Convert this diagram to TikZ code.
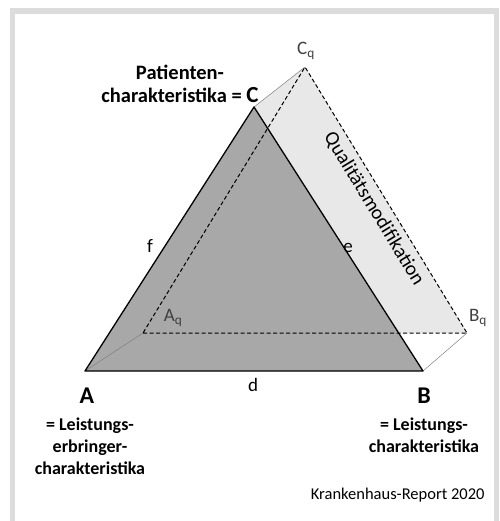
\documentclass[tikz,border=0pt]{standalone}
\usepackage{fontspec}
\setmainfont{Carlito}
\usetikzlibrary{positioning,calc}

\definecolor{framegray}{HTML}{DCDCDC}
\definecolor{darkfill}{HTML}{A8A8A8}
\definecolor{lightfill}{HTML}{E8E8E8}
\definecolor{labelgray}{HTML}{404040}

\begin{document}
\begin{tikzpicture}[x=1pt,y=-1pt,
    corner/.style={font=\fontsize{24}{26}\selectfont\bfseries},
    qlabel/.style={font=\fontsize{19}{21}\selectfont, text=labelgray},
    side/.style={font=\fontsize{19}{21}\selectfont},
    note/.style={font=\fontsize{18}{22}\selectfont\bfseries, align=center},
    solidedge/.style={draw=black, line width=1.3pt, line join=round},
    dashedge/.style={draw=black, line width=1pt, dashed, dash pattern=on 4pt off 2.5pt},
    shiftline/.style={draw=gray, line width=0.5pt},
]
\useasboundingbox (0,0) rectangle (499,521);
% frame
\draw[framegray, line width=5.5pt] (12.5,540) -- (12.5,11) -- (496.5,11) -- (496.5,540);

% corner points
\coordinate (A) at (85,371);
\coordinate (B) at (423,371);
\coordinate (C) at (254,107);
\coordinate (Aq) at (143,333);
\coordinate (Bq) at (467,333);
\coordinate (Cq) at (305,67);
\coordinate (X) at (intersection of Aq--Bq and B--C);

% shaded areas
\fill[lightfill] (C) -- (Cq) -- (Bq) -- (X) -- cycle;
\fill[darkfill] (A) -- (B) -- (C) -- cycle;

% shift lines
\draw[shiftline] (A) -- (Aq);
\draw[shiftline] (B) -- (Bq);
\draw[shiftline] (C) -- (Cq);

% modified triangle
\draw[dashedge] (Aq) -- (Bq) -- (Cq) -- cycle;
% base triangle
\draw[solidedge] (A) -- (B) -- (C) -- cycle;

% corner labels
\node[corner] (lA) at (87,396) {A};
\node[corner] (lB) at (424,396) {B};
\node[qlabel] (lAq) at (173,318) {A\textsubscript{q}};
\node[qlabel] (lBq) at (478,318) {B\textsubscript{q}};
\node[qlabel] (lCq) at (306,51) {C\textsubscript{q}};

% side labels
\node[side] (lf) at (150,246) {f};
\node[side] (le) at (348,248) {e};
\node[side] (ld) at (253,385) {d};
\node[side, font=\fontsize{20}{22}\selectfont, rotate=-58.7] (lmod) at (374,209) {Qualitätsmodifikation};

% descriptions
\node[note, font=\fontsize{20.5}{23}\selectfont\bfseries] (nC) at (180,84)
    {Patienten-\\charakteristika = {\fontsize{23}{23}\selectfont C}};
\node[note] (nA) at (90,446) {= Leistungs-\\erbringer-\\charakteristika};
\node[note] (nB) at (424,435) {= Leistungs-\\charakteristika};

\node[font=\fontsize{16.5}{18}\selectfont, anchor=east] (src) at (488,495) {Krankenhaus-Report 2020};
\end{tikzpicture}
\end{document}
